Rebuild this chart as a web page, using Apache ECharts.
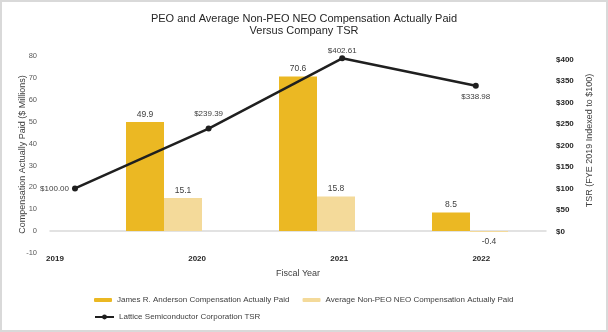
<!DOCTYPE html>
<html>
<head>
<meta charset="utf-8">
<script src="https://cdn.jsdelivr.net/npm/echarts@6/dist/echarts.min.js"></script>
<style>
  html, body { margin: 0; padding: 0; background: #fff; }
  #wrap { position: relative; width: 608px; height: 332px; }
  #chart { width: 608px; height: 332px; }
  #frame { position: absolute; left: 0; top: 0; width: 608px; height: 332px; box-sizing: border-box; border: 2px solid #d9d9d9; pointer-events: none; }
</style>
</head>
<body>
<div id="wrap"><div id="chart"></div><div id="frame"></div></div>
<script>
// Fiscal years and compensation actually paid ($ millions)
const years = ['2019', '2020', '2021', '2022'];
const peoCap = [null, 49.9, 70.6, 8.5];
const neoAvgCap = [null, 15.1, 15.8, -0.4];
// Cumulative TSR, FYE 2019 indexed to $100
const tsr = [100.00, 239.39, 402.61, 338.98];
// Axis tick ranges: [min, max, step]
const compTicks = [-10, 80, 10];
const tsrTicks = [-50, 400, 50];

const seriesNames = [
  'James R. Anderson Compensation Actually Paid',
  'Average Non-PEO NEO Compensation Actually Paid',
  'Lattice Semiconductor Corporation TSR'
];

const FONT = '"Liberation Sans", Arial, sans-serif';
const yearNums = years.map(Number);
const tsrLabelPos = ['left', 'top', 'top', 'bottom'];
const tsrLabelDist = [3, 8, 1, 4];

const chart = echarts.init(document.getElementById('chart'), null, { renderer: 'canvas' });

const hiddenValueAxis = {
  axisLine: { show: false, onZero: false }, axisTick: { show: false },
  splitLine: { show: false }, axisLabel: { show: false }
};

chart.setOption({
  animation: false,
  backgroundColor: '#ffffff',
  textStyle: { fontFamily: FONT },
  title: {
    text: 'PEO and Average Non-PEO NEO Compensation Actually Paid\nVersus Company TSR',
    left: 'center',
    top: 7.5,
    textStyle: { fontFamily: FONT, fontSize: 11, fontWeight: 'normal', color: '#262626', lineHeight: 12.5 }
  },
  legend: [
    {
      data: seriesNames.slice(0, 2),
      left: 89, top: 291,
      itemWidth: 18, itemHeight: 4, itemGap: 13,
      textStyle: { fontFamily: FONT, fontSize: 8, color: '#404040' }
    },
    {
      data: seriesNames.slice(2),
      left: 89, top: 308,
      itemWidth: 19, itemHeight: 6,
      textStyle: { fontFamily: FONT, fontSize: 8, color: '#404040' }
    }
  ],
  grid: { left: 50, right: 62, top: 56, bottom: 79 },
  xAxis: [
    {
      // bar placement axis; its line is the zero baseline
      type: 'value', position: 'top', min: 2019.1307, max: 2022.3725,
      axisLine: { show: true, onZero: true, lineStyle: { color: '#d9d9d9', width: 1.5 } },
      axisTick: { show: false }, axisLabel: { show: false }, splitLine: { show: false }
    },
    Object.assign({
      // TSR line axis
      type: 'value', position: 'top', min: 2018.8129, max: 2022.5255
    }, hiddenValueAxis),
    {
      // fiscal-year labels along the bottom of the plot
      type: 'value', position: 'bottom', min: 2018.9648, max: 2022.4553,
      axisLine: { show: false, onZero: false }, axisTick: { show: false }, splitLine: { show: false },
      axisLabel: {
        customValues: yearNums,
        margin: 2, fontFamily: FONT, fontSize: 8, fontWeight: 'bold', color: '#262626',
        formatter: v => String(v)
      },
      name: 'Fiscal Year', nameLocation: 'middle', nameGap: 16,
      nameTextStyle: { fontFamily: FONT, fontSize: 9, color: '#404040' }
    }
  ],
  yAxis: [
    {
      type: 'value', position: 'left',
      min: compTicks[0], max: compTicks[1], interval: compTicks[2],
      axisLine: { show: false }, axisTick: { show: false }, splitLine: { show: false },
      axisLabel: { margin: 13, fontFamily: FONT, fontSize: 7.5, color: '#595959' },
      name: 'Compensation Actually Paid ($ Millions)', nameLocation: 'middle', nameRotate: 90,
      nameGap: 23, nameMoveOverlap: false,
      nameTextStyle: { fontFamily: FONT, fontSize: 9, color: '#404040' }
    },
    {
      type: 'value', position: 'right',
      min: tsrTicks[0], max: 408, interval: tsrTicks[2],
      axisLine: { show: false }, axisTick: { show: false }, splitLine: { show: false },
      axisLabel: {
        margin: 10, fontFamily: FONT, fontSize: 8, fontWeight: 'bold', color: '#262626',
        formatter: v => (v < 0 || v > tsrTicks[1] ? '' : '$' + v)
      },
      name: 'TSR (FYE 2019 Indexed to $100)', nameLocation: 'middle', nameRotate: 90, nameGap: 34,
      nameTextStyle: { fontFamily: FONT, fontSize: 9, color: '#404040', padding: [0, 0, 0, 28] }
    }
  ],
  series: [
    {
      name: seriesNames[0], type: 'bar', xAxisIndex: 0, yAxisIndex: 0,
      data: yearNums.map((y, i) => [y, peoCap[i]]), barWidth: 38, barGap: '0%', z: 2,
      itemStyle: { color: '#EBB823' },
      label: {
        show: true, position: 'top', distance: 3, fontFamily: FONT, fontSize: 8.5, color: '#404040',
        formatter: p => String(p.value[1])
      }
    },
    {
      name: seriesNames[1], type: 'bar', xAxisIndex: 0, yAxisIndex: 0,
      data: yearNums.map((y, i) => {
        const v = neoAvgCap[i];
        return v !== null && v < 0
          ? { value: [y, v], label: { position: 'bottom', distance: 5 } }
          : [y, v];
      }),
      barWidth: 38, barGap: '0%', z: 2,
      itemStyle: { color: '#F4DA9A' },
      label: {
        show: true, position: 'top', distance: 3, fontFamily: FONT, fontSize: 8.5, color: '#404040',
        formatter: p => String(p.value[1])
      }
    },
    {
      // empty third slot so each pair sits left of the year's centre
      name: 'slot', type: 'bar', xAxisIndex: 0, yAxisIndex: 0,
      data: yearNums.map(y => [y, null]), barWidth: 38, barGap: '0%', silent: true
    },
    {
      name: seriesNames[2], type: 'line', xAxisIndex: 1, yAxisIndex: 1,
      data: tsr.map((v, i) => ({
        value: [yearNums[i], v],
        label: { position: tsrLabelPos[i], distance: tsrLabelDist[i] }
      })),
      z: 5, clip: false,
      symbol: 'circle', symbolSize: 6,
      lineStyle: { color: '#1f1f1f', width: 2.5 },
      itemStyle: { color: '#1f1f1f' },
      label: {
        show: true, fontFamily: FONT, fontSize: 8, color: '#404040',
        formatter: p => '$' + p.value[1].toFixed(2)
      }
    }
  ]
});
</script>
</body>
</html>
